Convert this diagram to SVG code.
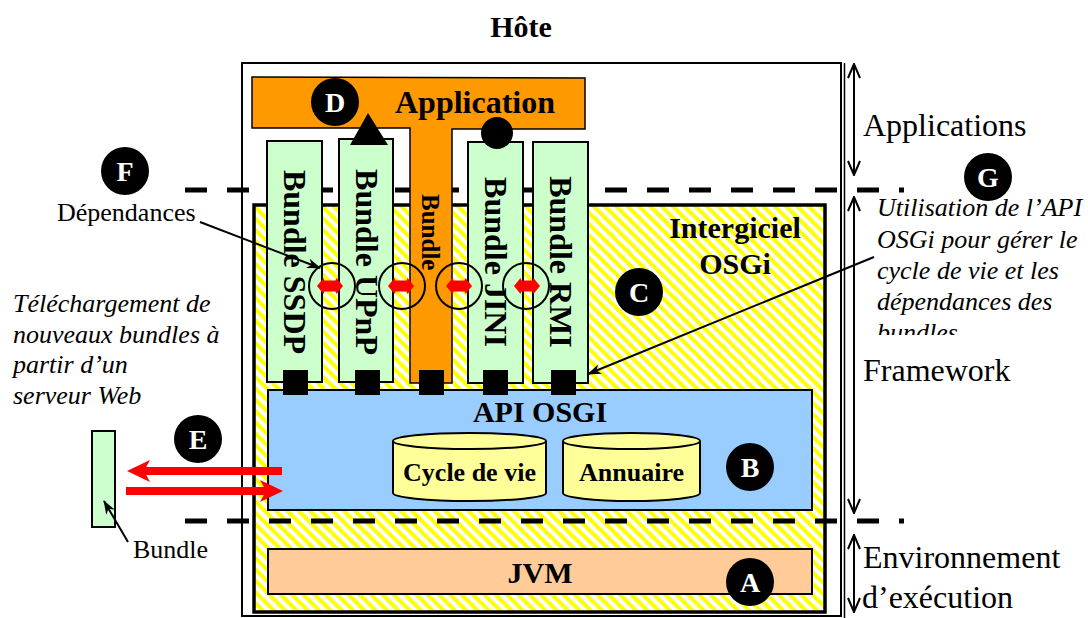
<svg xmlns="http://www.w3.org/2000/svg" width="1088" height="618" viewBox="0 0 1088 618">
<style>
.t{font-family:"Liberation Serif","Times New Roman",serif;fill:#000}
.b{font-weight:bold}
.i{font-style:italic}
.box{stroke:#000;stroke-width:2}
.bundle{fill:#ccffcc;stroke:#000;stroke-width:2}
.badge circle{fill:#000}
.badge text{font-family:"Liberation Serif",serif;font-weight:bold;font-size:28px;fill:#fff;text-anchor:middle}
.dash{stroke:#000;stroke-width:5;stroke-dasharray:22 20;fill:none}
.ptr{stroke:#000;stroke-width:2;fill:none;marker-end:url(#stealth)}
.vr{stroke:#000;stroke-width:2;fill:none;marker-start:url(#vhead);marker-end:url(#vhead)}
.ring{fill:none;stroke:#000;stroke-width:2}
.cyl{fill:#ffff99;stroke:#000;stroke-width:2}
.red{stroke:#ff0000;stroke-width:8;fill:none}
</style>
<defs>
<pattern id="stripes" width="8" height="8" patternUnits="userSpaceOnUse" patternTransform="rotate(-45)">
<rect width="8" height="8" fill="#ffffff"/>
<rect width="4" height="8" fill="#ffff00"/>
</pattern>
<marker id="stealth" viewBox="0 0 14 10" refX="13" refY="5" markerWidth="14" markerHeight="10" markerUnits="userSpaceOnUse" orient="auto">
<path d="M0,0 L14,5 L0,10 L4,5 Z" fill="#000"/>
</marker>
<marker id="vhead" viewBox="0 0 16 14" refX="15" refY="7" markerWidth="16" markerHeight="14" markerUnits="userSpaceOnUse" orient="auto-start-reverse">
<path d="M1,1 L15,7 L1,13" fill="none" stroke="#000" stroke-width="2"/>
</marker>
<path id="redArrow" d="M-13,0 L-6.5,-8 L-5.5,-5.5 L5.5,-5.5 L6.5,-8 L13,0 L6.5,8 L5.5,5.5 L-5.5,5.5 L-6.5,8 Z" fill="#ff0000"/>
<clipPath id="gclip"><rect x="860" y="190" width="228" height="145"/></clipPath>
</defs>

<rect width="1088" height="618" fill="#ffffff"/>

<text class="t b" x="521" y="37" font-size="30" text-anchor="middle">Hôte</text>

<g id="host">
<rect x="242" y="63" width="599" height="553" fill="none" stroke="#000" stroke-width="2"/>
<line x1="844.5" y1="63" x2="844.5" y2="618" stroke="#000" stroke-width="1.5"/>
</g>

<g id="intergiciel">
<rect x="254" y="205" width="571" height="407" fill="url(#stripes)" stroke="#000" stroke-width="3.5"/>
<text class="t b" x="735" y="238" font-size="30" text-anchor="middle">Intergiciel</text>
<text class="t b" x="735" y="274" font-size="30" text-anchor="middle">OSGi</text>
</g>

<g id="layer-lines">
<line class="dash" x1="185" y1="190" x2="904" y2="190"/>
<line class="dash" x1="185" y1="521" x2="904" y2="521"/>
</g>

<g id="api">
<rect class="box" x="268" y="390" width="544" height="120" fill="#99ccff"/>
<text class="t b" x="540" y="422" font-size="30" text-anchor="middle">API OSGI</text>
</g>

<g id="cycle">
<path class="cyl" d="M393,441 L393,493 A76.5,8 0 0 0 546,493 L546,441"/>
<ellipse class="cyl" cx="469.5" cy="441" rx="76.5" ry="8"/>
<text class="t b" x="469.5" y="481" font-size="26" text-anchor="middle">Cycle de vie</text>
</g>

<g id="annuaire">
<path class="cyl" d="M563,441 L563,493 A68.5,8 0 0 0 700,493 L700,441"/>
<ellipse class="cyl" cx="631.5" cy="441" rx="68.5" ry="8"/>
<text class="t b" x="631.5" y="481" font-size="26" text-anchor="middle">Annuaire</text>
</g>

<g id="jvm">
<rect class="box" x="268" y="549" width="544" height="45" fill="#ffcc99"/>
<text class="t b" x="540" y="583" font-size="30" text-anchor="middle">JVM</text>
</g>

<g id="application">
<polygon points="252,77 585,78 585,129 452,129 452,383 410,383 410,128 252,128" fill="#ff9900" stroke="#000" stroke-width="1.5"/>
<text class="t b" x="475" y="113" font-size="32" text-anchor="middle">Application</text>
<text class="t b" font-size="25" transform="translate(422,194) rotate(90)">Bundle</text>
</g>

<g id="bundle-ssdp">
<rect class="bundle" x="267" y="141" width="55" height="241"/>
<text class="t b" font-size="32" text-anchor="middle" transform="translate(284,262) rotate(90)">Bundle SSDP</text>
</g>
<g id="bundle-upnp">
<rect class="bundle" x="339" y="139" width="54" height="243"/>
<text class="t b" font-size="32" text-anchor="middle" transform="translate(356,262) rotate(90)">Bundle UPnP</text>
</g>
<g id="bundle-jini">
<rect class="bundle" x="468" y="142" width="55" height="241"/>
<text class="t b" font-size="32" text-anchor="middle" transform="translate(485,262) rotate(90)">Bundle JINI</text>
</g>
<g id="bundle-rmi">
<rect class="bundle" x="533" y="142" width="55" height="241"/>
<text class="t b" font-size="32" text-anchor="middle" transform="translate(550,262) rotate(90)">Bundle RMI</text>
</g>

<g id="ports" fill="#000">
<rect x="283" y="370" width="25" height="25"/>
<rect x="355" y="370" width="25" height="25"/>
<rect x="419" y="370" width="25" height="25"/>
<rect x="483" y="370" width="25" height="25"/>
<rect x="551" y="370" width="25" height="25"/>
</g>

<g id="interfaces" fill="#000">
<polygon points="350,145 388,145 368,113"/>
<circle cx="497" cy="133" r="16"/>
</g>

<g id="dependencies">
<circle class="ring" cx="332" cy="286" r="23"/>
<circle class="ring" cx="402" cy="286" r="23"/>
<circle class="ring" cx="459" cy="286" r="23"/>
<circle class="ring" cx="526" cy="286" r="23"/>
<use href="#redArrow" transform="translate(330,286)"/>
<use href="#redArrow" transform="translate(401,286)"/>
<use href="#redArrow" transform="translate(459,286)"/>
<use href="#redArrow" transform="translate(527,286)"/>
</g>

<g id="remote-bundle">
<rect class="bundle" x="92" y="431" width="23" height="96"/>
<text class="t" x="133" y="558" font-size="26">Bundle</text>
</g>

<g id="connectors">
<line class="ptr" x1="200" y1="222" x2="320" y2="268"/>
<line class="ptr" x1="874" y1="257" x2="588" y2="374"/>
<line class="ptr" x1="128" y1="542" x2="104" y2="501"/>
<line class="red" x1="282" y1="471" x2="140" y2="471"/>
<polygon points="127,471 150,460 144,471 150,482" fill="#ff0000"/>
<line class="red" x1="126" y1="491" x2="270" y2="491"/>
<polygon points="283,491 260,480 266,491 260,502" fill="#ff0000"/>
<line class="vr" x1="854" y1="64" x2="854" y2="175"/>
<line class="vr" x1="854" y1="197" x2="854" y2="513"/>
<line class="vr" x1="854" y1="535" x2="854" y2="612"/>
</g>

<g id="labels">
<text class="t" x="57" y="221" font-size="26">Dépendances</text>
<text class="t i" font-size="26"><tspan x="13" y="312">Téléchargement de</tspan><tspan x="13" y="343">nouveaux bundles à</tspan><tspan x="13" y="373">partir d’un</tspan><tspan x="13" y="404">serveur Web</tspan></text>
<text class="t i" font-size="26" clip-path="url(#gclip)"><tspan x="877" y="216">Utilisation de l’API</tspan><tspan x="877" y="248">OSGi pour gérer le</tspan><tspan x="877" y="279">cycle de vie et les</tspan><tspan x="877" y="310">dépendances des</tspan><tspan x="877" y="341">bundles</tspan></text>
<text class="t" x="863" y="136" font-size="32">Applications</text>
<text class="t" x="863" y="381" font-size="32">Framework</text>
<text class="t" x="863" y="568" font-size="32">Environnement</text>
<text class="t" x="862" y="608" font-size="32">d’exécution</text>
</g>

<g id="badge-a" class="badge"><circle cx="750" cy="582" r="24"/><text x="750" y="592">A</text></g>
<g id="badge-b" class="badge"><circle cx="750" cy="467" r="24"/><text x="750" y="477">B</text></g>
<g id="badge-c" class="badge"><circle cx="639" cy="292" r="24"/><text x="639" y="302">C</text></g>
<g id="badge-d" class="badge"><circle cx="335" cy="102" r="24"/><text x="335" y="112">D</text></g>
<g id="badge-e" class="badge"><circle cx="198" cy="439" r="24"/><text x="198" y="449">E</text></g>
<g id="badge-f" class="badge"><circle cx="125" cy="171" r="24"/><text x="125" y="181">F</text></g>
<g id="badge-g" class="badge"><circle cx="988" cy="177" r="24"/><text x="988" y="187">G</text></g>
</svg>
